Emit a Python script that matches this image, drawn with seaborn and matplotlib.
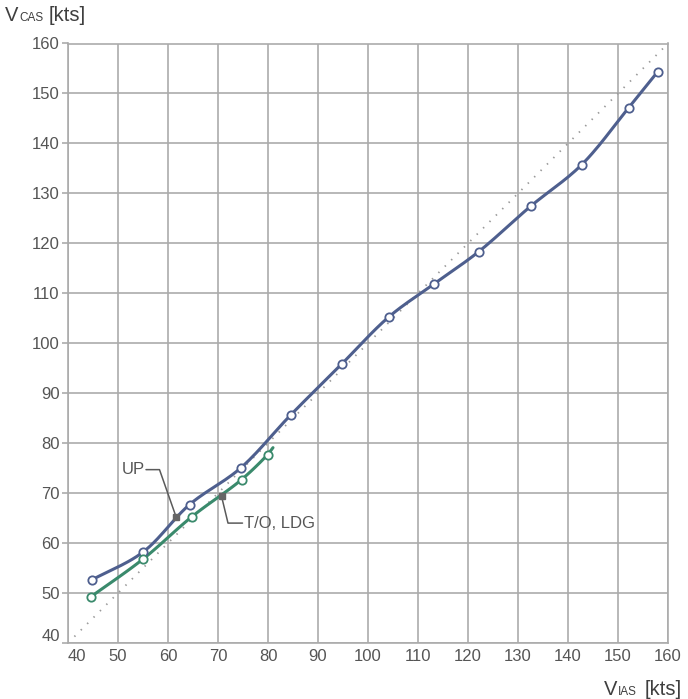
import numpy as np
import pandas as pd
import matplotlib
matplotlib.use("Agg")
import matplotlib.pyplot as plt
import matplotlib.transforms as mtransforms
import seaborn as sns

# Airspeed calibration: indicated (IAS) vs calibrated (CAS), knots
ias_up = [44.7, 55.0, 64.3, 74.5, 84.5, 94.7, 104.2, 113.1, 122.1, 132.5, 142.7, 152.1, 157.9]
cas_up = [52.6, 58.2, 67.7, 75.0, 85.6, 95.8, 105.3, 111.8, 118.3, 127.4, 135.7, 147.1, 154.3]

ias_to = [44.5, 55.0, 64.8, 74.7, 79.9]
cas_to = [49.2, 56.8, 65.3, 72.7, 77.7]
to_line_end = (81.0, 79.1)

# Labelled flap settings: (text, point on curve, leader elbow, text anchor)
label_up = ("UP", (61.6, 65.3), (58.3, 74.7), (55.6, 74.7))
label_to = ("T/O, LDG", (70.7, 69.4), (72.0, 64.0), (74.9, 64.0))

ticks = list(range(40, 161, 10))

BLUE = "#4e5f8e"
GREEN = "#3a8a6c"
GRID = "#ababab"
TEXT = "#555555"


def smooth(xs, ys, n=24):
    """Centripetal Catmull-Rom curve through the given points."""
    p = np.column_stack([xs, ys]).astype(float)
    p = np.vstack([2 * p[0] - p[1], p, 2 * p[-1] - p[-2]])
    out = []
    for i in range(1, len(p) - 2):
        p0, p1, p2, p3 = p[i - 1], p[i], p[i + 1], p[i + 2]
        t0 = 0.0
        t1 = t0 + np.linalg.norm(p1 - p0) ** 0.5
        t2 = t1 + np.linalg.norm(p2 - p1) ** 0.5
        t3 = t2 + np.linalg.norm(p3 - p2) ** 0.5
        t = np.linspace(t1, t2, n)[:, None]
        a1 = (t1 - t) / (t1 - t0) * p0 + (t - t0) / (t1 - t0) * p1
        a2 = (t2 - t) / (t2 - t1) * p1 + (t - t1) / (t2 - t1) * p2
        a3 = (t3 - t) / (t3 - t2) * p2 + (t - t2) / (t3 - t2) * p3
        b1 = (t2 - t) / (t2 - t0) * a1 + (t - t0) / (t2 - t0) * a2
        b2 = (t3 - t) / (t3 - t1) * a2 + (t - t1) / (t3 - t1) * a3
        c = (t2 - t) / (t2 - t1) * b1 + (t - t1) / (t2 - t1) * b2
        out.append(c if i == 1 else c[1:])
    c = np.vstack(out)
    return pd.DataFrame({"x": c[:, 0], "y": c[:, 1], "order": np.arange(len(c))})


sns.set_theme(style="white")
plt.rcParams["font.family"] = ["Liberation Sans", "DejaVu Sans"]

fig = plt.figure(figsize=(6.88, 6.99), dpi=100)
ax = fig.add_axes([68 / 688, 1 - 643 / 699, 600 / 688, 599.5 / 699])

# reference diagonal IAS = CAS
ax.plot([40, 160], [40, 160], color="#9a9a9a", lw=1.3, ls=(0, (0.8, 4.2)), zorder=2)

up_curve = smooth(ias_up, cas_up)
to_curve = smooth(ias_to + [to_line_end[0]], cas_to + [to_line_end[1]])

sns.lineplot(data=up_curve, x="x", y="y", sort=False, estimator=None,
             color=BLUE, lw=2.2, ax=ax, zorder=3)
sns.lineplot(data=to_curve, x="x", y="y", sort=False, estimator=None,
             color=GREEN, lw=2.2, ax=ax, zorder=3)
sns.scatterplot(x=ias_up, y=cas_up, marker="o", s=36, facecolor="white",
                edgecolor=BLUE, linewidth=1.3, ax=ax, zorder=4)
sns.scatterplot(x=ias_to, y=cas_to, marker="o", s=36, facecolor="white",
                edgecolor=GREEN, linewidth=1.3, ax=ax, zorder=4)

# flap-setting labels with leader lines
for text, pt, elbow, anchor in (label_up, label_to):
    ax.plot([anchor[0], elbow[0], pt[0]], [anchor[1], elbow[1], pt[1]],
            color="#5a5a5a", lw=1.1, zorder=5)
    ax.plot([pt[0]], [pt[1]], marker="s", ms=5, color="#666666", mec="#666666", zorder=6)
ax.text(label_up[3][0] - 0.2, label_up[3][1], label_up[0], ha="right", va="center",
        fontsize=12, color=TEXT)
ax.text(label_to[3][0] + 0.2, label_to[3][1], label_to[0], ha="left", va="center",
        fontsize=12, color=TEXT)

ax.set_xlim(40, 160)
ax.set_ylim(40, 160)
ax.set_xticks(ticks)
ax.set_yticks(ticks)
ax.set_xticklabels([str(t) for t in ticks])
ax.set_yticklabels([str(t) for t in ticks])
ax.set_xlabel("")
ax.set_ylabel("")
ax.grid(True, color=GRID, lw=1.2)
ax.set_axisbelow(True)
for sp in ax.spines.values():
    sp.set_color(GRID)
    sp.set_linewidth(1.2)
ax.tick_params(axis="x", length=0, pad=4, labelsize=12, labelcolor=TEXT)
ax.tick_params(axis="y", length=4, width=1.2, color=GRID, pad=2, labelsize=12,
               labelcolor=TEXT, left=True)

# nudge the shared corner labels apart
fig.canvas.draw()
ax.get_xticklabels()[0].set_transform(
    ax.get_xticklabels()[0].get_transform()
    + mtransforms.ScaledTranslation(9 / 100, 0, fig.dpi_scale_trans))
ax.get_yticklabels()[0].set_transform(
    ax.get_yticklabels()[0].get_transform()
    + mtransforms.ScaledTranslation(0, 8 / 100, fig.dpi_scale_trans))


def axis_title(x0, y0, parts):
    """Place 'V' + small subscript + unit, positions in pixels from top-left."""
    for dx, s, size in parts:
        fig.text((x0 + dx) / 688, 1 - y0 / 699, s, fontsize=size, color="#3f3f3f",
                 ha="left", va="baseline")


axis_title(5, 21, [(0, "V", 14.5), (14, "CAS", 8.5), (44, "[kts]", 14.5)])
axis_title(604, 695, [(0, "V", 14.5), (14, "IAS", 8.5), (41, "[kts]", 14.5)])

fig.savefig("out.png", dpi=100)
